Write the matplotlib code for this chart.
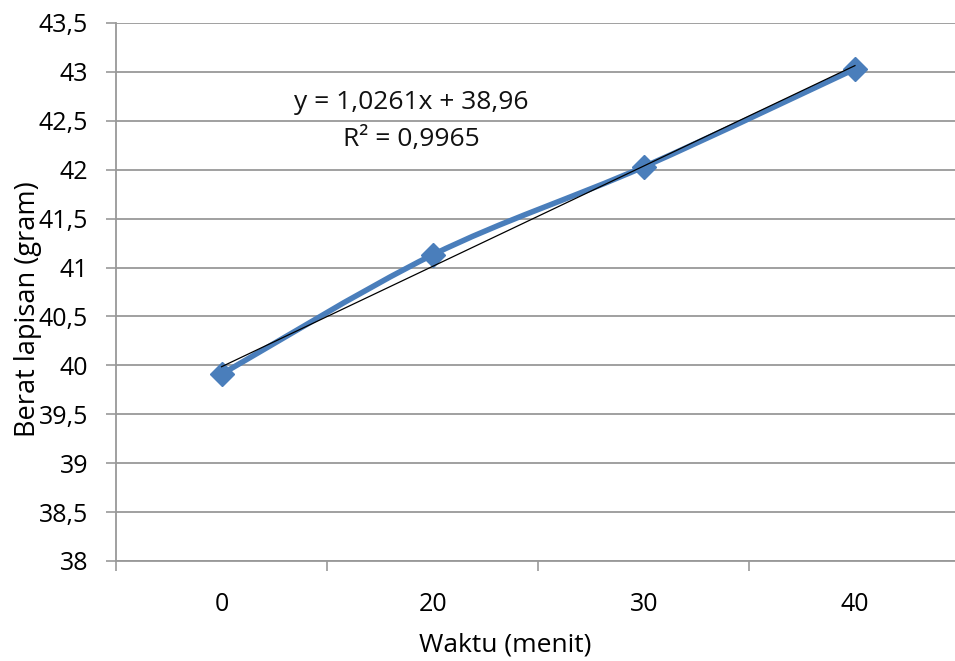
import numpy as np
import matplotlib.pyplot as plt
from matplotlib.path import Path
from matplotlib.patches import PathPatch

plt.rcParams['font.family'] = ['Open Sans', 'DejaVu Sans']

waktu = ['0', '20', '30', '40']
berat = [39.91, 41.13, 42.03, 43.03]
slope, intercept, r2 = 1.0261, 38.96, 0.9965

blue = '#4A7EBB'
grid = '#999999'
fs = 18


def koma(v, fmt):
    return format(v, fmt).replace('.', ',')


x = np.arange(1, len(berat) + 1)
y = np.array(berat)

fig = plt.figure(figsize=(9.55, 6.61), dpi=100)
ax = fig.add_axes([116 / 955, 1 - 561 / 661, 844.5 / 955, 538 / 661])

# smoothed series line (bezier through the points)
pts = np.column_stack([x, y])
verts = [pts[0]]
codes = [Path.MOVETO]
for i in range(len(pts) - 1):
    p0 = pts[max(i - 1, 0)]
    p1 = pts[i]
    p2 = pts[i + 1]
    p3 = pts[min(i + 2, len(pts) - 1)]
    verts += [p1 + (p2 - p0) / 6, p2 - (p3 - p1) / 6, p2]
    codes += [Path.CURVE4] * 3
ax.add_patch(PathPatch(Path(verts, codes), facecolor='none', edgecolor=blue,
                       lw=4.0, capstyle='round', joinstyle='round', zorder=3))
ax.plot(x, y, linestyle='none', marker='D', markersize=12.5, color=blue, zorder=4)

# linear trendline
tx = np.array([x[0], x[-1]])
ax.plot(tx, slope * tx + intercept, color='black', lw=0.9, zorder=5)

ax.text(1.90, 42.69, f'y = {koma(slope, ".4f")}x + {koma(intercept, ".2f")}',
        ha='center', va='center', fontsize=19, color='#111111')
ax.text(1.90, 42.305, f'R² = {koma(r2, ".4f")}',
        ha='center', va='center', fontsize=19, color='#111111')

ax.set_xlim(0.5, 4.5)
ax.set_ylim(38, 43.5)
yt = np.arange(38, 43.51, 0.5)
ax.set_yticks(yt)
ax.set_yticklabels([koma(v, 'g') for v in yt])
ax.set_xticks(x)
ax.set_xticklabels(waktu)
ax.set_xticks(np.arange(0.5, 4.6, 1.0), minor=True)
ax.tick_params(axis='x', which='major', length=0, pad=22, labelsize=fs)
ax.tick_params(axis='x', which='minor', length=7, width=1.2, color=grid)
ax.tick_params(axis='y', length=7, width=1.2, color=grid, pad=13, labelsize=fs)
ax.yaxis.grid(True, color=grid, lw=1.3)
ax.set_axisbelow(True)
for s in ['top', 'right']:
    ax.spines[s].set_visible(False)
for s in ['left', 'bottom']:
    ax.spines[s].set_color(grid)
    ax.spines[s].set_linewidth(1.3)

fig.text(505 / 955, 1 - 645 / 661, 'Waktu (menit)', ha='center', va='center', fontsize=19)
fig.text(28 / 955, 1 - 309 / 661, 'Berat lapisan (gram)', ha='center', va='center',
         rotation=90, fontsize=19.5)

fig.savefig('out.png', dpi=100)
